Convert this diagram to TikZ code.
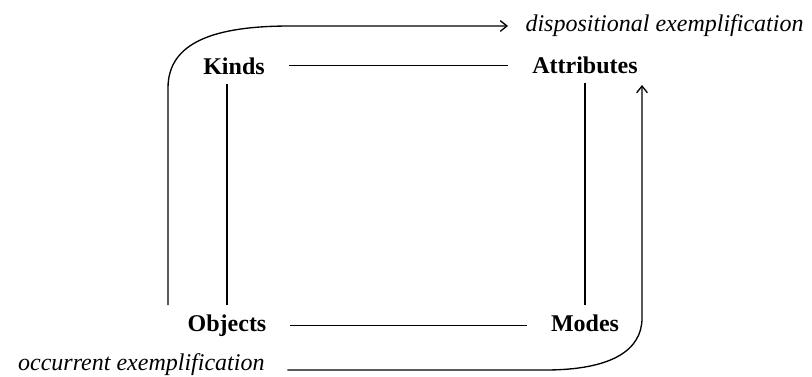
\documentclass[tikz,border=0pt]{standalone}
\usepackage{fontspec}
\setmainfont{Liberation Serif}
\usetikzlibrary{arrows.meta}

\tikzset{every picture/.style={line width=0.75pt}}
\tikzset{rung/.style={shorten <=17pt, shorten >=17pt}}
\tikzset{pole/.style={shorten <=6pt, shorten >=6pt}}

\begin{document}
\begin{tikzpicture}[x=0.75pt,y=0.75pt,yscale=-1,xscale=1,font=\fontsize{18pt}{21pt}\selectfont,>={Straight Barb[length=5pt,width=8pt]}]
\useasboundingbox (0,0) rectangle (812,376);

% Text Node
\draw (234,74) node [anchor=base][inner sep=0.75pt] (kinds) {\textbf{Kinds}};
% Text Node
\draw (585,73) node [anchor=base][inner sep=0.75pt] (attributes) {\textbf{Attributes}};
% Text Node
\draw (227,331) node [anchor=base][inner sep=0.75pt] (objects) {\textbf{Objects}};
% Text Node
\draw (585,331) node [anchor=base][inner sep=0.75pt] (modes) {\textbf{Modes}};
% Text Node
\draw (524,26) node [anchor=west][inner sep=0.75pt] (disp) {\textit{dispositional exemplification}};
% Text Node
\draw (266,370) node [anchor=base east][inner sep=0.75pt] (occ) {\textit{occurrent exemplification}};

\coordinate (dispfoot) at (168,305);
\coordinate (occtip) at (642,85);

%Straight Lines
\draw [line width=1]    (kinds.east) -- (kinds.east -| attributes.west) [rung] ;
%Straight Lines
\draw [line width=1]    (objects.east) -- (objects.east -| modes.west) [rung] ;
%Straight Lines
\draw [line width=1]    (kinds.south -| objects.north) -- (objects.north) [pole] ;
%Straight Lines
\draw [line width=1]    (attributes.south -| modes.north) -- (modes.north) [pole] ;

%Curve Lines
\draw [line width=1] [->]   (dispfoot) -- (168,88) .. controls (168,42) and (215,26) .. (290,26) -- (disp.west) [shorten >=12pt] ;
%Curve Lines
\draw [line width=1] [->]   (occ.base east) [shorten <=16pt] -- (545,370) .. controls (612,370) and (642,350) .. (642,318) -- (occtip) ;

\end{tikzpicture}
\end{document}
